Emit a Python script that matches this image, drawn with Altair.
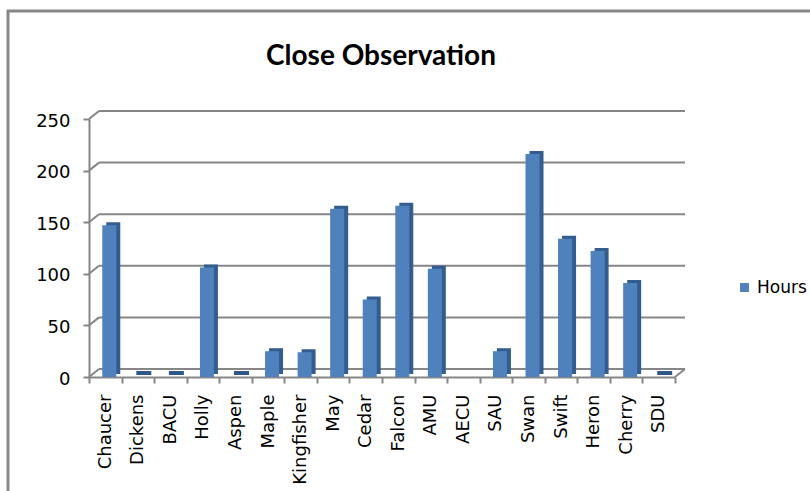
import altair as alt
import pandas as pd

# Hours of close observation per unit
categories = ["Chaucer", "Dickens", "BACU", "Holly", "Aspen", "Maple", "Kingfisher",
              "May", "Cedar", "Falcon", "AMU", "AECU", "SAU", "Swan", "Swift",
              "Heron", "Cherry", "SDU"]
hours = [147, 0, 0, 106, 0, 25, 24, 163, 75, 166, 105, None, 25, 216, 134, 122, 91, 0]
y_ticks = [0, 50, 100, 150, 200, 250]

df = pd.DataFrame({"House": categories, "Hours": hours, "Series": ["Hours"] * len(categories)})
grid_df = pd.DataFrame({"Hours": y_ticks})
floor_df = pd.DataFrame({"Hours": [0]})
title_df = pd.DataFrame({"t": ["Close Observation"]})
frame_df = pd.DataFrame({"k": [1]})

W, H = 586, 258          # plot area
DX, DY = 10, -8          # depth offset of the back wall
FRONT = "#4F81BD"
SIDE = "#345D8F"
GRID = "#868686"

yscale = alt.Scale(domain=[0, 250], nice=False, zero=True)
xscale = alt.Scale(domain=categories, paddingInner=0, paddingOuter=0)

x_axis = alt.Axis(
    title=None, labelAngle=-90, tickBand="extent",
    domainColor=GRID, domainWidth=2, tickColor=GRID, tickWidth=2, tickSize=6,
    labelFont="DejaVu Sans", labelFontSize=18, labelColor="#000000", labelPadding=11,
)
y_axis = alt.Axis(
    title=None, values=y_ticks, grid=False,
    domainColor=GRID, domainWidth=2, tickColor=GRID, tickWidth=2, tickSize=6,
    labelFont="DejaVu Sans", labelFontSize=18, labelColor="#000000", labelPadding=13,
    labelOffset=2,
)

def yenc():
    return alt.Y("Hours:Q", scale=yscale, axis=y_axis)

def xenc():
    return alt.X("House:N", scale=xscale, axis=x_axis)

# back wall gridlines
back_grid = alt.Chart(grid_df).mark_rule(color=GRID, strokeWidth=2, yOffset=DY).encode(
    y=yenc(),
    x=alt.value(DX),
    x2=alt.value(W + DX),
)

# side wall diagonals joining the front axis to the back wall
wall_diag = alt.Chart(grid_df).mark_rule(color=GRID, strokeWidth=2, y2Offset=DY).encode(
    y=yenc(),
    y2=alt.Y2("Hours"),
    x=alt.value(0),
    x2=alt.value(DX),
)

# right edge of the floor
floor_diag = alt.Chart(floor_df).mark_rule(color=GRID, strokeWidth=2, y2Offset=DY).encode(
    y=yenc(),
    y2=alt.Y2("Hours"),
    x=alt.value(W),
    x2=alt.value(W + DX),
)

# darker side/top faces of the columns
side = alt.Chart(df).mark_bar(color=SIDE, size=14, xOffset=8, yOffset=-3).encode(
    x=xenc(),
    y=yenc(),
)

# flat slabs for zero-hour columns
slabs = alt.Chart(df).transform_filter("datum.Hours == 0").mark_tick(
    color="#2E5788", size=15, thickness=4, xOffset=6, yOffset=-4, orient="horizontal", opacity=1
).encode(
    x=xenc(),
    y=yenc(),
)

front = alt.Chart(df).mark_bar(size=14, xOffset=4).encode(
    x=xenc(),
    y=yenc(),
    color=alt.Color(
        "Series:N", scale=alt.Scale(range=[FRONT]),
        legend=alt.Legend(
            title=None, orient="none", legendX=647, legendY=160,
            symbolType="square", symbolSize=80, symbolStrokeWidth=0,
            labelFont="DejaVu Sans", labelFontSize=17, labelColor="#000000",
        ),
    ),
)

title = alt.Chart(title_df).mark_text(
    font="Lato", fontSize=28, fontWeight="bold", align="center", baseline="alphabetic", color="#000000"
).encode(text="t:N", x=alt.value(292), y=alt.value(-54))

frame = alt.Chart(frame_df).mark_rect(fill="transparent", stroke="#888888", strokeWidth=3).encode(
    x=alt.value(-81), x2=alt.value(800), y=alt.value(-108), y2=alt.value(500)
)

chart = alt.layer(back_grid, wall_diag, floor_diag, side, slabs, front, title, frame).properties(
    width=W, height=H,
    autosize=alt.AutoSizeParams(type="none"),
    padding={"left": 89, "top": 119, "right": 810 - 89 - W, "bottom": 491 - 119 - H},
).configure(background="white", view=alt.ViewConfig(stroke=None))

chart.save("out.html", embed_options={"renderer": "svg", "actions": False})
